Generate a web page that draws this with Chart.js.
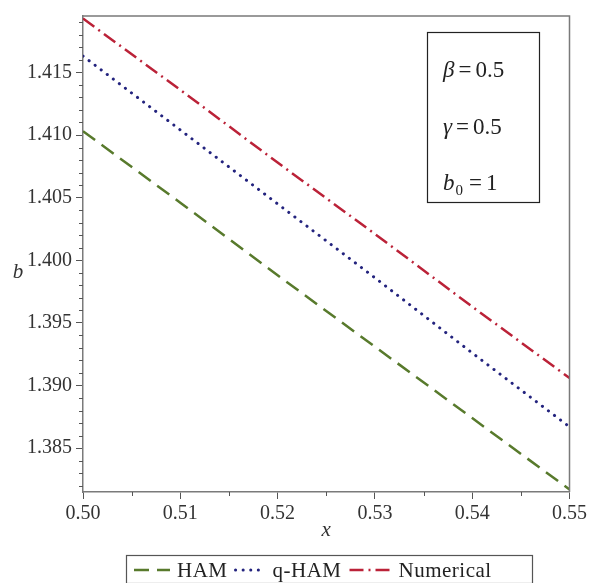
<!DOCTYPE html>
<html><head><meta charset="utf-8">
<script src="https://cdn.jsdelivr.net/npm/chart.js@4/dist/chart.umd.min.js"></script>
<style>html,body{margin:0;padding:0;background:#fff}#wrap{width:590px;height:583px}</style>
</head><body><div id="wrap"><canvas id="c" width="590" height="583"></canvas></div>
<script>
// x positions and solution values b(x) for each method
const xValues = [0.50, 0.51, 0.52, 0.53, 0.54, 0.55];
const hamValues = [1.4103, 1.4046, 1.3988, 1.3931, 1.3874, 1.3817];
const qhamValues = [1.4163, 1.4104, 1.4045, 1.3986, 1.3926, 1.3867];
const numericalValues = [1.4193, 1.4136, 1.4078, 1.4021, 1.3963, 1.3906];
const seriesNames = ['HAM', 'q-HAM', 'Numerical'];
// axis ticks
const xTicks = [0.50, 0.51, 0.52, 0.53, 0.54, 0.55];
const yTicks = [1.385, 1.390, 1.395, 1.400, 1.405, 1.410, 1.415];
const xMinorTicks = [0.505, 0.515, 0.525, 0.535, 0.545];
const yMinorTicks = [1.382,1.383,1.384,1.386,1.387,1.388,1.389,1.391,1.392,1.393,1.394,1.396,1.397,1.398,1.399,1.401,1.402,1.403,1.404,1.406,1.407,1.408,1.409,1.411,1.412,1.413,1.414,1.416,1.417,1.418,1.419];
// parameter labels shown in the inset box
const paramLabels = [['β', '0.5'], ['γ', '0.5'], ['b', '1']];

const SERIF = '"Liberation Serif", "Times New Roman", serif';
const COLORS = ['#587a2c', '#23237e', '#bb2238'];
const DASHES = [[15, 8], [0.1, 7.5], [14, 5, 2, 5]];
const CAPS = ['butt', 'round', 'butt'];
const WIDTHS = [2.5, 3, 2.5];
const SAMPLE_W = [36, 30, 42];

const toPts = vals => xValues.map((x, i) => ({x, y: vals[i]}));

const decorations = {
  id: 'decorations',
  afterDraw(chart) {
    const {ctx, chartArea: a, scales: {x, y}} = chart;
    ctx.save();
    // top and right frame lines
    ctx.strokeStyle = '#7a7a7a';
    ctx.lineWidth = 1.5;
    ctx.beginPath();
    ctx.moveTo(a.left, a.top); ctx.lineTo(a.right, a.top); ctx.lineTo(a.right, a.bottom);
    ctx.stroke();
    // minor ticks
    ctx.strokeStyle = '#555';
    ctx.lineWidth = 1;
    ctx.beginPath();
    yMinorTicks.forEach(v => { const p = Math.round(y.getPixelForValue(v)) + 0.5; ctx.moveTo(a.left - 4, p); ctx.lineTo(a.left, p); });
    xMinorTicks.forEach(v => { const p = Math.round(x.getPixelForValue(v)) + 0.5; ctx.moveTo(p, a.bottom); ctx.lineTo(p, a.bottom + 4); });
    ctx.stroke();
    // axis titles
    ctx.fillStyle = '#333';
    ctx.font = 'italic 21px ' + SERIF;
    ctx.textAlign = 'center'; ctx.textBaseline = 'middle';
    ctx.fillText('b', 18, 272);
    ctx.fillText('x', (a.left + a.right) / 2, 530);
    // parameter inset box
    const bx = 427, by = 32, bw = 112, bh = 170;
    ctx.strokeStyle = '#222'; ctx.lineWidth = 1.2;
    ctx.strokeRect(bx + 0.5, by + 0.5, bw, bh);
    ctx.fillStyle = '#222';
    ctx.textAlign = 'left'; ctx.textBaseline = 'alphabetic';
    const rows = [77, 134, 190];
    paramLabels.forEach((pl, i) => {
      let cx = bx + 16;
      ctx.font = 'italic 23px ' + SERIF;
      ctx.fillText(pl[0], cx, rows[i]);
      cx += ctx.measureText(pl[0]).width + 4;
      if (i === 2) {
        ctx.font = '15px ' + SERIF;
        ctx.fillText('0', cx - 3, rows[i] + 5);
        cx += ctx.measureText('0').width + 3;
      }
      ctx.font = '23px ' + SERIF;
      ctx.fillText('=', cx, rows[i]);
      cx += ctx.measureText('=').width + 4;
      ctx.fillText(pl[1], cx, rows[i]);
    });
    // legend: sample line + name per series
    const lx = 126, ly = 555, lw = 406, lh = 28;
    ctx.strokeStyle = '#555'; ctx.lineWidth = 1.2;
    ctx.strokeRect(lx + 0.5, ly + 0.5, lw, lh);
    const my = ly + lh / 2 + 1;
    ctx.font = '21px ' + SERIF;
    ctx.letterSpacing = '0.5px';
    ctx.textBaseline = 'middle';
    let cx = lx + 8;
    seriesNames.forEach((name, i) => {
      ctx.strokeStyle = COLORS[i]; ctx.lineWidth = WIDTHS[i]; ctx.lineCap = CAPS[i];
      ctx.setLineDash(DASHES[i]);
      ctx.beginPath(); ctx.moveTo(cx, my); ctx.lineTo(cx + SAMPLE_W[i], my); ctx.stroke();
      ctx.setLineDash([]); ctx.lineCap = 'butt';
      cx += SAMPLE_W[i] + 7;
      ctx.fillStyle = '#222';
      ctx.fillText(name, cx, my + 1);
      cx += ctx.measureText(name).width + 8;
    });
    ctx.restore();
  }
};

new Chart(document.getElementById('c'), {
  type: 'line',
  data: {
    datasets: [hamValues, qhamValues, numericalValues].map((vals, i) => ({
      label: seriesNames[i],
      data: toPts(vals),
      borderColor: COLORS[i],
      borderWidth: WIDTHS[i],
      borderDash: DASHES[i],
      borderCapStyle: CAPS[i],
      pointRadius: 0,
      tension: 0,
      fill: false
    }))
  },
  options: {
    responsive: false,
    animation: false,
    devicePixelRatio: 1,
    layout: {padding: {top: 10, right: 20, left: 0, bottom: 0}},
    plugins: {legend: {display: false}, tooltip: {enabled: false}},
    scales: {
      x: {
        type: 'linear', min: 0.50, max: 0.55,
        afterBuildTicks: s => { s.ticks = xTicks.map(v => ({value: v})); },
        afterFit: s => { s.height = 91; },
        ticks: {color: '#333', font: {family: SERIF, size: 20}, padding: 3, maxRotation: 0,
                callback: v => v.toFixed(2)},
        grid: {drawOnChartArea: false, tickLength: 7, color: '#555'},
        border: {color: '#7a7a7a', width: 1.5}
      },
      y: {
        type: 'linear', min: 1.3815, max: 1.4195,
        afterBuildTicks: s => { s.ticks = yTicks.map(v => ({value: v})); },
        afterFit: s => { s.width = 83; },
        ticks: {color: '#333', font: {family: SERIF, size: 20}, padding: 4,
                callback: v => v.toFixed(3)},
        grid: {drawOnChartArea: false, tickLength: 7, color: '#555'},
        border: {color: '#7a7a7a', width: 1.5}
      }
    }
  },
  plugins: [decorations]
});
</script></body></html>
